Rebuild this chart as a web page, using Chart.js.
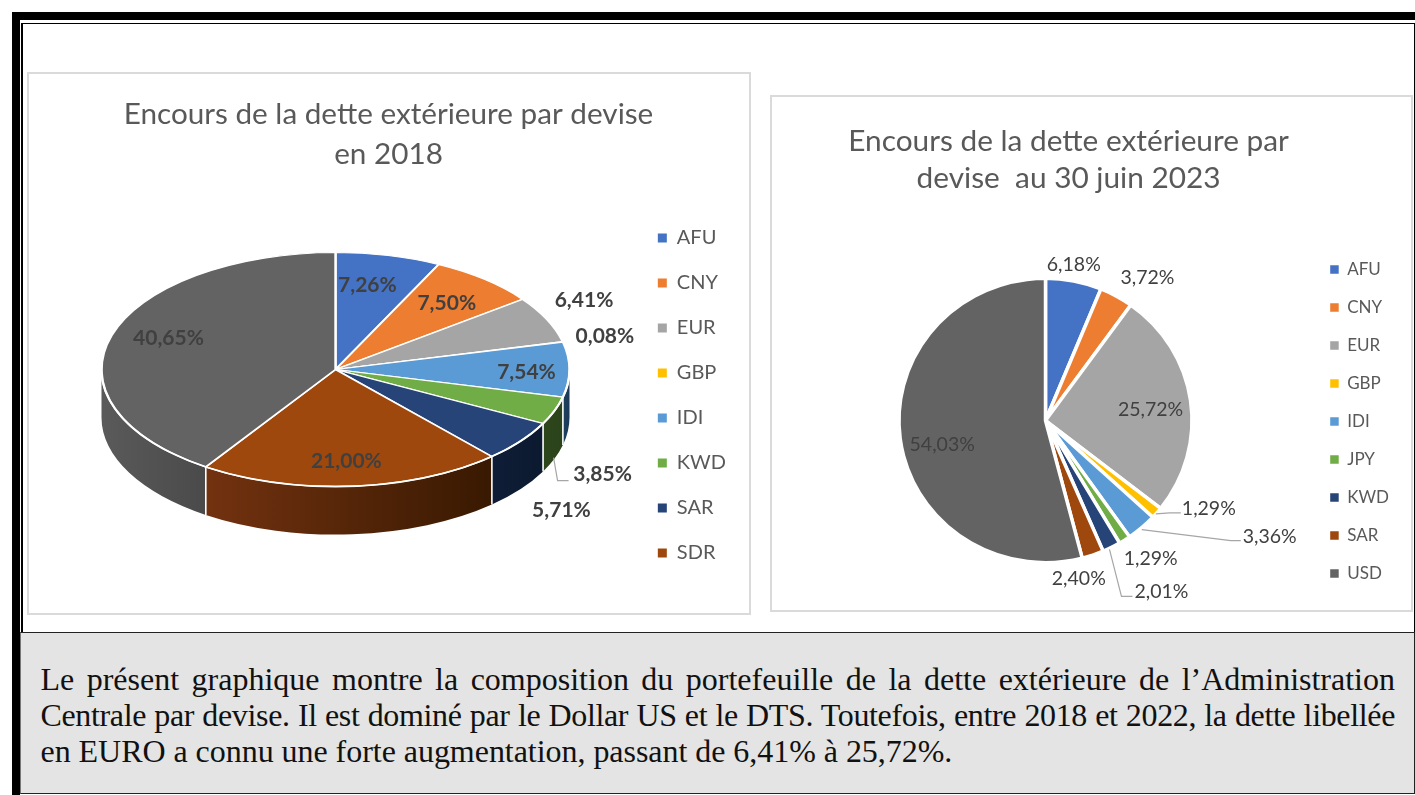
<!DOCTYPE html>
<html lang="fr">
<head>
<meta charset="utf-8">
<title>Encours de la dette extérieure par devise</title>
<script src="https://cdn.jsdelivr.net/npm/chart.js@4/dist/chart.umd.min.js"></script>
<style>
  html, body { margin: 0; padding: 0; background: #fff; overflow: hidden; }
  body { width: 1415px; height: 795px; position: relative; }
  .box { position: absolute; box-sizing: border-box; }
  .panel { border: 2.5px solid #dadada; background: #fff; }
  canvas { position: absolute; left: 0; top: 0; }
  #note {
    left: 20px; top: 632px; width: 1395px; height: 162px;
    background: #e4e4e4; border-top: 1.5px solid #222; border-bottom: 1.5px solid #222;
    border-left: 1.5px solid #777; border-right: 1.5px solid #222;
    font-family: "Liberation Serif", serif; font-size: 32px; line-height: 36px; color: #111;
    padding: 28px 19px 0 19.5px;
  }
  #note div { text-align: justify; text-align-last: justify; white-space: nowrap; }
  #note div.mid { letter-spacing: -0.35px; }
  #note div.last { text-align-last: left; letter-spacing: -0.04px; }
</style>
</head>
<body>
<div class="box" style="left:12px;top:12px;width:1403px;height:8px;background:#000"></div>
<div class="box" style="left:12px;top:12px;width:7.5px;height:783px;background:#000"></div>
<div class="box" style="left:21px;top:22.5px;width:1394px;height:1.7px;background:#000"></div>
<div class="box" style="left:21.2px;top:22.5px;width:1.8px;height:611px;background:#000"></div>
<div class="box" style="left:1413.6px;top:22.5px;width:1.4px;height:612px;background:#000"></div>

<div class="box panel" style="left:27px;top:72px;width:724px;height:543px">
  <canvas id="chart2018" width="719" height="538"></canvas>
</div>
<div class="box panel" style="left:770px;top:95px;width:643px;height:517px">
  <canvas id="chart2023" width="638" height="512"></canvas>
</div>

<div class="box" id="note">
  <div>Le présent graphique montre la composition du portefeuille de la dette extérieure de l’Administration</div>
  <div class="mid">Centrale par devise. Il est dominé par le Dollar US et le DTS. Toutefois, entre 2018 et 2022, la dette libellée</div>
  <div class="last">en EURO a connu une forte augmentation, passant de 6,41% à 25,72%.</div>
</div>

<script>
const devises2018 = ['AFU', 'CNY', 'EUR', 'GBP', 'IDI', 'KWD', 'SAR', 'SDR', 'USD']
const valeurs2018 = [7.26, 7.50, 6.41, 0.08, 7.54, 3.85, 5.71, 21.00, 40.65]
const couleurs2018 = ['#4472c4', '#ed7d31', '#a5a5a5', '#ffc000', '#5b9bd5', '#70ad47', '#264478', '#9e480e', '#636363']
const cotesG2018 = ['#2a4477', '#8e4b1d', '#636363', '#997300', '#1f4060', '#2d461c', '#0e1c36', '#733210', '#5a5a5a']
const cotesD2018 = ['#2a4477', '#8e4b1d', '#636363', '#997300', '#1a3a56', '#2a431a', '#0c1a30', '#381901', '#4a4a4a']

const devises2023 = ['AFU', 'CNY', 'EUR', 'GBP', 'IDI', 'JPY', 'KWD', 'SAR', 'USD']
const valeurs2023 = [6.18, 3.72, 25.72, 1.29, 3.36, 1.29, 2.01, 2.40, 54.03]
const couleurs2023 = ['#4472c4', '#ed7d31', '#a5a5a5', '#ffc000', '#5b9bd5', '#70ad47', '#264478', '#9e480e', '#636363']

// label offsets from the rim point of each slice
const decalX2018 = [-21, -38, 37, 42, -43, 48, 41, -6, 57]
const decalY2018 = [30, 24, -19, -6, 3, 64, 69, -25, 3]
const decalX2023 = [0, 31, -40, 52, 128, 26, 50, -14, 42]
const decalY2023 = [-16, -18, 9, -4, 9, 19, 44, 24, 6]

const renvois2018 = { 5: [[-1, 47], [3, 70], [14, 70]] }
const renvois2023 = {
  3: [[-1, 1], [13, 0], [24, 0]],
  4: [[0, 2], [89, 13], [99, 13]],
  6: [[-2, 2], [10, 49], [21, 49]]
}

const fmt = v => v.toFixed(2).replace('.', ',') + '%'

// squashes the pie to an ellipse, moves it to its place and adds the side wall
const piePlugin = {
  id: 'pie3d',
  beforeDatasetsDraw(chart, args, o) {
    const ctx = chart.ctx
    const arcs = chart.getDatasetMeta(0).data
    const { x, y, outerRadius: r } = arcs[0]
    if (o.depth) {
      const ry = r * o.yScale
      arcs.forEach((arc, i) => {
        const a0 = Math.max(arc.startAngle, 0)
        const a1 = Math.min(arc.endAngle, Math.PI)
        if (a1 <= a0) return
        const g = ctx.createLinearGradient(o.cx + r * Math.cos(a0), 0, o.cx + r * Math.cos(a1), 0)
        g.addColorStop(0, o.sideRight[i])
        g.addColorStop(1, o.sideLeft[i])
        ctx.beginPath()
        ctx.ellipse(o.cx, o.cy, r, ry, 0, a0, a1)
        ctx.ellipse(o.cx, o.cy + o.depth, r, ry, 0, a1, a0, true)
        ctx.closePath()
        ctx.fillStyle = g
        ctx.fill()
      })
      ctx.strokeStyle = '#fff'
      ctx.lineWidth = 1.6
      arcs.forEach(arc => {
        const a = arc.endAngle
        if (a <= 0 || a >= Math.PI) return
        const px = o.cx + r * Math.cos(a)
        const py = o.cy + ry * Math.sin(a)
        ctx.beginPath()
        ctx.moveTo(px, py)
        ctx.lineTo(px, py + o.depth)
        ctx.stroke()
      })
    }
    ctx.save()
    ctx.translate(o.cx, o.cy)
    ctx.scale(1, o.yScale)
    ctx.translate(-x, -y)
  },
  afterDatasetsDraw(chart, args, o) {
    const ctx = chart.ctx
    ctx.restore()
    const arcs = chart.getDatasetMeta(0).data
    const values = chart.data.datasets[0].data
    const r = arcs[0].outerRadius
    const rim = arc => {
      const mid = (arc.startAngle + arc.endAngle) / 2
      return [o.cx + r * Math.cos(mid), o.cy + r * o.yScale * Math.sin(mid)]
    }
    if (o.depth) {
      // white edge where the top face meets the wall
      ctx.strokeStyle = '#fff'
      ctx.lineWidth = 1.8
      ctx.beginPath()
      ctx.ellipse(o.cx, o.cy, r, r * o.yScale, 0, 0, Math.PI)
      ctx.stroke()
    }
    ctx.strokeStyle = '#a6a6a6'
    ctx.lineWidth = 1.2
    Object.keys(o.leaders).forEach(i => {
      const [px, py] = rim(arcs[i])
      ctx.beginPath()
      o.leaders[i].forEach(([dx, dy], k) => {
        if (k === 0) ctx.moveTo(px + dx, py + dy)
        else ctx.lineTo(px + dx, py + dy)
      })
      ctx.stroke()
    })
    ctx.font = o.font
    ctx.fillStyle = '#404040'
    ctx.textAlign = 'center'
    ctx.textBaseline = 'middle'
    arcs.forEach((arc, i) => {
      const [px, py] = rim(arc)
      ctx.fillText(fmt(values[i]), px + o.dx[i], py + o.dy[i])
    })
  }
}

function pie(id, labels, values, colors, cfg) {
  return new Chart(document.getElementById(id), {
    type: 'pie',
    data: {
      labels,
      datasets: [{
        data: values,
        backgroundColor: colors,
        borderColor: '#fff',
        borderWidth: cfg.border,
        radius: cfg.radius,
        clip: false
      }]
    },
    plugins: [piePlugin],
    options: {
      responsive: false,
      animation: false,
      layout: { padding: cfg.padding },
      plugins: {
        tooltip: { enabled: false },
        title: {
          display: true,
          text: cfg.title,
          fullSize: cfg.titleFull,
          color: '#595959',
          font: { family: 'Lato', size: cfg.titleSize, weight: 'normal', lineHeight: cfg.titleLine / cfg.titleSize },
          padding: 0
        },
        legend: {
          position: 'right',
          align: 'end',
          labels: {
            boxWidth: cfg.swatch,
            boxHeight: cfg.swatch,
            padding: cfg.legendGap,
            color: '#595959',
            font: { family: 'Lato', size: cfg.legendSize },
            generateLabels: c => Chart.overrides.pie.plugins.legend.labels.generateLabels(c)
              .filter(item => !cfg.hidden.includes(item.text))
              .map(item => ({ ...item, lineWidth: 0 }))
          }
        },
        pie3d: cfg.pie
      }
    }
  })
}

pie('chart2018', devises2018, valeurs2018, couleurs2018, {
  border: 2.4,
  radius: 234,
  padding: { top: 20, right: 12, bottom: 24, left: 12 },
  title: ['Encours de la dette extérieure par devise', 'en 2018'],
  titleFull: true,
  titleSize: 29.7,
  titleLine: 40,
  swatch: 9,
  legendGap: 25,
  legendSize: 20,
  hidden: ['USD'],
  pie: {
    cx: 336 - 29.5, cy: 370 - 74.5, yScale: 0.5, depth: 48,
    sideLeft: cotesG2018, sideRight: cotesD2018,
    dx: decalX2018, dy: decalY2018, leaders: renvois2018,
    font: 'bold 21px Lato'
  }
})

pie('chart2023', devises2023, valeurs2023, couleurs2023, {
  border: 3.5,
  radius: 146.5,
  padding: { top: 26, right: 11, bottom: 6, left: 56 },
  title: ['Encours de la dette extérieure par', 'devise  au 30 juin 2023'],
  titleFull: false,
  titleSize: 29.8,
  titleLine: 37,
  swatch: 8.5,
  legendGap: 21,
  legendSize: 17,
  hidden: [],
  pie: {
    cx: 1046 - 772.5, cy: 421 - 97.5, yScale: 0.97, depth: 0,
    dx: decalX2023, dy: decalY2023, leaders: renvois2023,
    font: '19.5px Lato'
  }
})
</script>
</body>
</html>
